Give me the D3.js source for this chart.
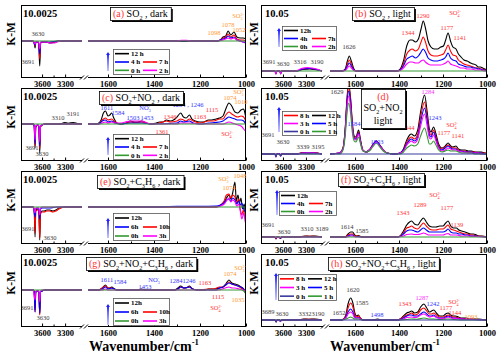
<!DOCTYPE html>
<html><head><meta charset="utf-8">
<script src="https://cdn.jsdelivr.net/npm/d3@7/dist/d3.min.js"></script>
<style>html,body{margin:0;padding:0;background:#fff}svg{display:block}</style>
</head><body>
<svg id="chart" width="500" height="356" xmlns="http://www.w3.org/2000/svg"></svg>
<script>
// ================= DATA (wavenumber cm-1, relative K-M) =================
const xTickValues = [3600, 3300, 1600, 1400, 1200, 1000];
const xMinorValues = [3450, 1500, 1300, 1100];
const leftColSegments = [[3874, 3080], [1687, 1000]];
const rightColSegments = [[3887, 3090], [1714, 1000]];
const yDomainDark = [-36, 36];
const yDomainLight = [-6, 66];

// (a) SO2 dark
const a_12h = [[3874,0],[3720,0],[3705,-1],[3691,-7],[3680,-1],[3645,-2],[3630,-25],[3618,-2],[3590,-1],[3540,-1],[3500,-2],[3450,-1.5],[3400,-0.5],[3300,0],[3080,0],
 [1687,0],[1300,0],[1270,-0.5],[1240,0],[1125,0],[1112,1],[1100,4],[1088,5],[1078,10],[1066,6],[1052,9],[1040,4],[1025,3],[1012,3],[1000,2]];
const a_7h = [[3874,0],[3720,0],[3705,-1],[3691,-5],[3680,-1],[3645,-1.5],[3630,-18],[3618,-1.5],[3590,-1],[3500,-1.5],[3450,-1],[3400,0],[3080,0],
 [1687,0],[1125,0],[1112,1],[1100,3],[1088,4],[1078,7],[1066,4],[1052,6],[1040,2],[1025,1],[1012,1],[1000,0]];
const a_4h = [[3874,0],[3720,0],[3691,-4],[3680,-1],[3645,-1],[3630,-13],[3618,-1],[3500,-1],[3400,0],[3080,0],
 [1687,0],[1125,0],[1100,2],[1088,3],[1078,5],[1066,3],[1052,4],[1040,1],[1025,0],[1012,-1],[1000,-2]];
const a_2h = [[3874,0],[3720,0],[3691,-3],[3680,-1],[3645,-1],[3630,-8],[3618,-1],[3540,-1],[3500,-2],[3450,-2],[3400,-1],[3350,0],[3080,0],
 [1687,0],[1300,0],[1280,0.7],[1260,0.7],[1240,0],[1125,0],[1100,1],[1088,2],[1078,3],[1066,2],[1052,3],[1040,1],[1025,0],[1012,-1],[1000,-1]];
const a_0h = [[3874,0],[3080,0],[1687,0],[1000,0]];

// (b) SO2 light
const b_12h = [[3887,0],[3705,0],[3691,-3],[3680,0],[3642,0],[3630,-3],[3618,0],[3420,0],[3340,1.5],[3250,2],[3190,1.5],[3090,0],
 [1714,0],[1660,0],[1645,2],[1635,10],[1626,15],[1617,10],[1605,2],[1595,0],[1410,0],[1395,2],[1380,10],[1365,25],[1350,31],[1340,31],[1325,29],[1312,32],[1300,42],[1290,50],[1280,43],[1268,30],[1255,24],[1240,22],[1225,22],[1210,24],[1198,25],[1188,31],[1177,38],[1166,30],[1155,24],[1141,22],[1130,17],[1118,14],[1105,11],[1090,10],[1075,8],[1062,7],[1050,6],[1040,4],[1030,4],[1020,3],[1010,2],[1000,1]];
const b_7h = [[3887,0],[3705,0],[3691,-2],[3680,0],[3642,0],[3630,-2],[3618,0],[3420,0],[3340,2],[3250,2.5],[3190,2],[3090,0],
 [1714,0],[1660,0],[1645,1],[1635,7],[1626,11],[1617,7],[1605,1],[1595,0],[1410,0],[1395,1],[1380,7],[1365,17],[1350,21],[1340,22],[1325,20],[1312,22],[1300,29],[1290,34],[1280,29],[1268,20],[1255,16],[1240,15],[1225,15],[1210,16],[1198,17],[1188,21],[1177,26],[1166,20],[1155,16],[1141,15],[1130,11],[1118,9],[1105,7],[1090,6],[1075,5],[1062,4],[1050,3],[1040,3],[1030,2],[1020,2],[1010,1],[1000,0]];
const b_4h = [[3887,0],[3705,0],[3691,-2],[3680,0],[3642,0],[3630,-2],[3618,0],[3420,0],[3340,2],[3250,2.5],[3190,2],[3090,0],
 [1714,0],[1660,0],[1645,1],[1635,5],[1626,8],[1617,5],[1605,1],[1595,0],[1410,0],[1395,1],[1380,5],[1365,12],[1350,14],[1340,15],[1325,13],[1312,15],[1300,19],[1290,22],[1280,19],[1268,13],[1255,11],[1240,10],[1225,10],[1210,11],[1198,12],[1188,14],[1177,18],[1166,13],[1155,11],[1141,10],[1130,7],[1118,6],[1105,5],[1090,4],[1075,4],[1062,3],[1050,3],[1040,2],[1030,2],[1020,1],[1010,1],[1000,0]];
const b_2h = [[3887,0],[3705,0],[3691,-3],[3680,0],[3642,0],[3630,-3],[3618,0],[3440,0],[3360,2.5],[3280,3.5],[3220,3],[3160,2],[3090,0],
 [1714,0],[1660,0],[1645,0.5],[1635,3],[1626,5],[1617,3],[1605,0.5],[1595,0],[1410,0],[1395,0.5],[1380,3],[1365,7],[1350,9],[1340,9],[1325,8],[1312,8],[1300,10],[1290,11],[1280,9],[1268,7],[1255,6],[1240,6],[1225,6],[1210,6],[1198,7],[1188,8],[1177,10],[1166,7],[1155,6],[1141,5],[1130,4],[1118,3],[1105,3],[1090,2],[1075,2],[1062,1.5],[1050,1],[1040,1],[1030,1],[1020,0.5],[1010,0],[1000,0]];
const b_0h = [[3887,0],[3090,0],[1714,0],[1000,0]];

// (c) SO2+NO2 dark
const c_12h = [[3874,0],[3715,0],[3702,-2],[3691,-24],[3682,-3],[3655,-1],[3642,-3],[3630,-29],[3620,-3],[3600,-1],[3560,0],[3400,0],[3340,0.5],[3310,1.5],[3260,0.8],[3191,1.5],[3140,0.5],[3080,0],
 [1687,0],[1650,0],[1630,4],[1620,11],[1611,13],[1600,8],[1592,9],[1584,11],[1575,6],[1562,1],[1545,0],[1520,1],[1503,3],[1485,2],[1470,2],[1453,3],[1435,1],[1410,0],[1390,1],[1375,2],[1361,2],[1346,4],[1330,3],[1315,4],[1300,7],[1284,11],[1272,7],[1260,6],[1246,9],[1235,5],[1220,3],[1200,2],[1185,2],[1163,4],[1150,4],[1130,5],[1115,6],[1100,8],[1088,15],[1074,21],[1062,18],[1048,12],[1035,11],[1022,14],[1010,15],[1004,10],[1000,6]];
const c_7h = [[3874,0],[3715,0],[3702,-2],[3691,-22],[3682,-3],[3655,-1],[3642,-3],[3630,-25],[3620,-3],[3600,-1],[3560,0],[3080,0],
 [1687,0],[1640,0],[1625,4],[1611,6],[1600,4],[1584,5],[1570,2],[1545,0],[1520,1],[1503,2],[1485,1.5],[1453,2],[1435,1],[1410,0],[1375,1],[1361,2],[1346,3],[1330,2],[1300,3],[1284,5],[1272,4],[1260,3],[1246,5],[1230,3],[1200,1],[1163,3],[1140,3],[1115,5],[1100,5],[1088,9],[1074,12],[1062,10],[1048,8],[1035,7],[1022,8],[1010,7],[1000,2]];
const c_4h = [[3874,0],[3715,0],[3702,-2],[3691,-20],[3682,-2],[3655,-1],[3642,-2],[3630,-22],[3620,-2],[3600,-1],[3560,0],[3080,0],
 [1687,0],[1640,0],[1625,3],[1611,4],[1600,2],[1584,3],[1570,1],[1545,0],[1503,1],[1453,1],[1410,0],[1300,1],[1284,3],[1272,2],[1246,3],[1230,1],[1200,0],[1163,1],[1115,2],[1100,3],[1088,5],[1074,7],[1062,6],[1048,5],[1035,4],[1022,4],[1010,3],[1000,-1]];
const c_2h = [[3874,0],[3715,0],[3702,-1],[3691,-16],[3682,-2],[3655,-1],[3642,-2],[3630,-18],[3620,-2],[3600,-1],[3560,0],[3080,0],
 [1687,0],[1640,0],[1625,1],[1611,2],[1600,1],[1584,2],[1570,1],[1545,1],[1525,2],[1503,3],[1485,3],[1470,3],[1453,3],[1430,1],[1410,0],[1300,0],[1284,1],[1246,1],[1200,0],[1100,0],[1074,2],[1048,0],[1035,-1],[1022,-2],[1010,-5],[1000,-8]];
const c_0h = [[3874,0],[3080,0],[1687,0],[1000,0]];

// (d) SO2+NO2 light
const d_12h = [[3887,0],[3705,0],[3691,-2],[3680,0],[3642,0],[3630,-2],[3618,0],[3420,0],[3339,1.5],[3270,1],[3195,1.5],[3090,0],
 [1714,0],[1670,1],[1655,6],[1645,25],[1637,55],[1629,70],[1620,55],[1612,30],[1604,18],[1596,17],[1584,24],[1575,14],[1565,4],[1550,2],[1535,4],[1520,9],[1503,13],[1488,9],[1472,4],[1455,1],[1420,0],[1395,1],[1380,5],[1365,14],[1352,19],[1344,20],[1330,18],[1315,24],[1302,42],[1284,59],[1272,42],[1262,25],[1255,22],[1243,27],[1232,20],[1220,10],[1205,6],[1190,8],[1177,11],[1165,8],[1155,7],[1141,8],[1130,5],[1115,4],[1100,4],[1085,3],[1070,3],[1055,2],[1040,2],[1025,2],[1010,1],[1000,1]];
const d_8h = [[3887,0],[3705,0],[3691,-2],[3680,0],[3642,0],[3630,-1.5],[3618,0],[3420,0],[3339,1.2],[3270,0.8],[3195,1.2],[3090,0],
 [1714,0],[1670,1],[1655,6],[1645,24],[1637,53],[1629,67],[1620,53],[1612,29],[1604,17],[1596,16],[1584,22],[1575,13],[1565,4],[1550,2],[1535,4],[1520,9],[1503,13],[1488,9],[1472,4],[1455,1],[1420,0],[1395,1],[1380,4],[1365,12],[1352,16],[1344,17],[1330,15],[1315,20],[1302,37],[1284,52],[1272,37],[1262,22],[1255,19],[1243,24],[1232,17],[1220,8],[1205,5],[1190,7],[1177,9],[1165,7],[1155,6],[1141,6],[1130,4],[1115,3],[1100,3],[1085,2],[1070,2],[1055,2],[1040,1],[1025,1],[1010,1],[1000,0]];
const d_5h = [[3887,0],[3705,0],[3691,-2],[3680,0],[3642,0],[3630,-1.5],[3618,0],[3420,0],[3339,1],[3195,1],[3090,0],
 [1714,0],[1670,1],[1655,5],[1645,23],[1637,50],[1629,63],[1620,50],[1612,27],[1604,16],[1596,15],[1584,21],[1575,12],[1565,4],[1550,2],[1535,4],[1520,9],[1503,13],[1488,9],[1472,4],[1455,1],[1420,0],[1395,1],[1380,4],[1365,10],[1352,14],[1344,15],[1330,13],[1315,17],[1302,32],[1284,46],[1272,33],[1262,19],[1255,17],[1243,22],[1232,15],[1220,7],[1205,4],[1190,6],[1177,8],[1165,6],[1155,5],[1141,5],[1130,3],[1115,3],[1100,2],[1085,2],[1070,2],[1055,1],[1040,1],[1025,1],[1010,0],[1000,0]];
const d_3h = [[3887,0],[3705,0],[3691,-3],[3680,0],[3642,0],[3630,-2],[3618,0],[3420,0],[3339,1],[3195,1],[3090,0],
 [1714,0],[1670,1],[1655,5],[1645,21],[1637,46],[1629,58],[1620,46],[1612,25],[1604,15],[1596,14],[1584,20],[1575,11],[1565,4],[1550,2],[1535,4],[1520,8],[1503,12],[1488,8],[1472,4],[1455,1],[1420,0],[1395,1],[1380,3],[1365,9],[1352,12],[1344,13],[1330,11],[1315,15],[1302,28],[1284,40],[1272,28],[1262,16],[1255,15],[1243,19],[1232,13],[1220,6],[1205,3],[1190,4],[1177,6],[1165,5],[1155,4],[1141,4],[1130,3],[1115,2],[1100,2],[1085,1],[1070,1],[1055,1],[1040,1],[1025,0],[1000,0]];
const d_1h = [[3887,0],[3705,0],[3691,-1],[3680,0],[3630,-1],[3618,0],[3090,0],
 [1714,0],[1670,0],[1655,4],[1645,18],[1637,40],[1629,51],[1620,40],[1612,21],[1604,13],[1596,12],[1584,17],[1575,10],[1565,3],[1550,2],[1535,3],[1520,7],[1503,11],[1488,7],[1472,3],[1455,1],[1420,0],[1395,0],[1380,2],[1365,6],[1352,8],[1344,9],[1330,8],[1315,10],[1302,18],[1284,26],[1272,18],[1262,10],[1255,10],[1243,13],[1232,9],[1220,4],[1205,2],[1190,3],[1177,4],[1165,3],[1155,3],[1141,3],[1130,2],[1115,1],[1100,1],[1085,1],[1070,1],[1055,0],[1000,0]];
const d_0h = [[3887,0],[3705,0],[3691,-3],[3680,0],[3642,0],[3630,-2],[3618,0],[3090,0],[1714,0],[1000,0]];

// (e) SO2+C3H6 dark
const e_12h = [[3874,0],[3715,0],[3702,-3],[3691,-30],[3682,-4],[3655,-2],[3642,-5],[3630,-33],[3620,-6],[3600,-4],[3570,-4],[3540,-3],[3500,-3],[3460,-4],[3420,-3],[3380,-1],[3300,0],[3080,0],
 [1687,0],[1130,0],[1110,2],[1095,5],[1085,9],[1074,12],[1066,8],[1058,14],[1048,25],[1042,6],[1035,12],[1028,4],[1022,9],[1015,-2],[1008,3],[1003,-6],[1000,-10]];
const e_10h = [[3874,0],[3715,0],[3702,-3],[3691,-26],[3682,-4],[3655,-3],[3642,-5],[3630,-31],[3620,-7],[3600,-5],[3570,-5],[3540,-4],[3500,-4],[3460,-5],[3420,-4],[3380,-2],[3300,0],[3080,0],
 [1687,0],[1130,0],[1110,2],[1095,6],[1085,12],[1074,13],[1066,9],[1058,12],[1048,10],[1040,4],[1032,8],[1025,-2],[1018,-8],[1012,-3],[1005,-10],[1000,-12]];
const e_6h = [[3874,0],[3715,0],[3691,-10],[3682,-2],[3655,-1],[3642,-2],[3630,-12],[3620,-2],[3600,-1],[3500,-1],[3400,0],[3080,0],
 [1687,0],[1400,0],[1300,0.8],[1200,0.8],[1130,1],[1110,2],[1095,4],[1085,7],[1074,8],[1066,6],[1058,9],[1048,7],[1040,3],[1032,6],[1025,2],[1018,4],[1010,-2],[1000,-6]];
const e_3h = [[3874,0],[3715,0],[3691,-6],[3682,-1],[3655,-1],[3642,-1],[3630,-8],[3620,-1],[3600,0],[3080,0],
 [1687,0],[1130,0],[1110,1],[1095,3],[1085,6],[1074,9],[1066,5],[1058,7],[1048,5],[1040,1],[1032,3],[1025,-4],[1018,-12],[1010,-6],[1004,-14],[1000,-18]];
const e_0h = [[3874,0],[3080,0],[1687,0],[1000,0]];

// (f) SO2+C3H6 light
const f_12h = [[3887,0],[3705,0],[3691,-2],[3680,0],[3642,0],[3630,-1.5],[3618,0],[3400,0],[3310,1],[3250,0.8],[3189,1],[3090,0],
 [1714,0],[1645,0],[1632,3],[1620,5],[1611,5],[1602,2],[1592,1],[1585,1.5],[1575,0.5],[1560,0],[1410,0],[1395,1],[1380,6],[1365,12],[1352,15],[1343,16],[1330,13],[1315,12],[1302,16],[1289,19],[1276,15],[1262,11],[1248,10],[1232,10],[1215,11],[1200,11],[1188,14],[1177,16],[1165,11],[1152,9],[1139,9],[1128,7],[1115,6],[1100,5],[1088,4],[1074,3],[1062,3],[1048,2],[1035,1],[1022,1],[1010,0.5],[1000,0]];
const f_7h = [[3887,0],[3705,0],[3691,-1.5],[3680,0],[3630,-1],[3618,0],[3400,0],[3310,0.8],[3189,0.8],[3090,0],
 [1714,0],[1645,0],[1632,2],[1620,3],[1611,3],[1602,1],[1585,1],[1570,0],[1410,0],[1395,1],[1380,4],[1365,9],[1352,10],[1343,11],[1330,9],[1315,8],[1302,11],[1289,14],[1276,11],[1262,8],[1248,7],[1232,7],[1215,8],[1200,8],[1188,10],[1177,12],[1165,8],[1152,7],[1139,6],[1128,5],[1115,4],[1100,3],[1088,3],[1074,2],[1062,2],[1048,1],[1035,1],[1022,0.5],[1000,0]];
const f_4h = [[3887,0],[3705,0],[3691,-1],[3680,0],[3630,-1],[3618,0],[3090,0],
 [1714,0],[1645,0],[1632,1],[1620,2],[1611,2],[1602,0.5],[1585,0.5],[1570,0],[1410,0],[1395,0.5],[1380,3],[1365,6],[1352,7],[1343,7],[1330,6],[1315,5],[1302,7],[1289,9],[1276,7],[1262,5],[1248,5],[1232,5],[1215,5],[1200,5],[1188,6],[1177,8],[1165,5],[1152,4],[1139,4],[1128,3],[1115,3],[1100,2],[1088,2],[1074,1],[1062,1],[1048,1],[1035,0.5],[1000,0]];
const f_2h = [[3887,0],[3705,0],[3691,-1],[3680,0],[3630,-0.5],[3618,0],[3090,0],
 [1714,0],[1640,0],[1620,1],[1611,1],[1595,0],[1410,0],[1380,1],[1365,2.5],[1343,3],[1330,2.5],[1315,2.5],[1302,3],[1289,4],[1276,3],[1262,2],[1232,2],[1200,2],[1188,3],[1177,3.5],[1165,2],[1139,2],[1115,1],[1088,1],[1048,0.5],[1000,0]];
const f_0h = [[3887,0],[3090,0],[1714,0],[1000,0]];

// (g) SO2+NO2+C3H6 dark
const g_12h = [[3874,0],[3715,0],[3702,-2],[3691,-20],[3682,-2],[3655,-1],[3642,-2],[3630,-24],[3620,-2],[3600,-1],[3560,0],[3080,0],
 [1687,0],[1640,0],[1625,2],[1611,5],[1600,2],[1592,2],[1584,3],[1572,1],[1560,0],[1470,0],[1453,1],[1435,0],[1310,0],[1296,2],[1284,4],[1270,2],[1260,2],[1246,4],[1232,1],[1210,0],[1180,0],[1163,1],[1140,1],[1115,2],[1100,3],[1088,6],[1074,10],[1062,7],[1048,6],[1035,5],[1022,3],[1010,1],[1000,-4]];
const g_10h = [[3874,0],[3715,0],[3702,-2],[3691,-22],[3682,-2],[3655,-1],[3642,-2],[3630,-25],[3620,-2],[3600,-1],[3560,0],[3080,0],
 [1687,0],[1640,0],[1625,2],[1611,4],[1600,2],[1584,2],[1572,1],[1560,0],[1310,0],[1296,1],[1284,3],[1270,2],[1246,3],[1232,1],[1210,0],[1163,1],[1140,1],[1115,3],[1100,3],[1088,5],[1074,8],[1062,6],[1048,5],[1035,4],[1022,2],[1010,0],[1000,-3]];
const g_6h = [[3874,0],[3715,0],[3702,-2],[3691,-22],[3682,-2],[3655,-1],[3642,-2],[3630,-23],[3620,-2],[3600,-1],[3560,0],[3080,0],
 [1687,0],[1640,0],[1625,1],[1611,3],[1600,1],[1584,2],[1572,1],[1560,0],[1310,0],[1296,1],[1284,3],[1270,2],[1246,3],[1232,1],[1210,0],[1130,0],[1115,2],[1100,3],[1088,5],[1074,7],[1062,6],[1048,5],[1035,4],[1022,3],[1010,1],[1000,-3]];
const g_3h = [[3874,0],[3715,0],[3691,-10],[3682,-1],[3642,-1],[3630,-12],[3620,-1],[3600,0],[3080,0],
 [1687,0],[1625,0],[1611,1],[1600,0],[1120,0],[1090,2],[1074,3],[1060,2],[1048,2],[1030,1],[1000,-1]];
const g_0h = [[3874,0],[3080,0],[1687,0],[1020,0],[1010,-1],[1000,-4]];

// (h) SO2+NO2+C3H6 light
const h_12h = [[3887,0],[3705,0],[3689,-2],[3678,0],[3642,0],[3630,-1],[3618,0],[3400,0],[3332,1],[3260,0.8],[3190,1],[3090,0],
 [1714,0],[1665,0],[1652,1],[1642,5],[1632,16],[1620,22],[1610,17],[1601,7],[1593,4],[1585,5],[1576,2],[1565,0],[1520,0],[1498,1],[1478,0],[1410,0],[1395,1],[1380,4],[1365,7],[1352,8],[1343,9],[1330,7],[1315,8],[1302,13],[1287,16],[1274,12],[1262,8],[1252,9],[1242,10],[1230,7],[1215,4],[1200,4],[1188,6],[1177,7],[1165,5],[1155,4],[1144,4],[1130,3],[1115,2],[1100,2],[1093,2],[1080,1],[1060,1],[1040,1],[1020,0.5],[1000,0]];
const h_8h = [[3887,0],[3705,0],[3689,-1.5],[3678,0],[3642,0],[3630,-1],[3618,0],[3400,0],[3332,0.8],[3190,0.8],[3090,0],
 [1714,0],[1665,0],[1652,1],[1642,4],[1632,12],[1620,17],[1610,13],[1601,5],[1593,3],[1585,4],[1576,2],[1565,0],[1410,0],[1395,1],[1380,3],[1365,5],[1352,6],[1343,7],[1330,5],[1315,6],[1302,10],[1287,12],[1274,9],[1262,6],[1252,6],[1242,7],[1230,5],[1215,3],[1200,3],[1188,4],[1177,5],[1165,4],[1155,3],[1144,3],[1130,2],[1115,1.5],[1100,1.5],[1080,1],[1040,0.5],[1000,0]];
const h_5h = [[3887,0],[3705,0],[3689,-1.5],[3678,0],[3630,-1],[3618,0],[3090,0],
 [1714,0],[1665,0],[1652,0.5],[1642,3],[1632,8],[1620,11],[1610,8],[1601,3],[1593,2],[1585,2.5],[1576,1],[1565,0],[1410,0],[1395,0.5],[1380,2],[1365,4],[1352,5],[1343,5],[1330,4],[1315,4],[1302,6],[1287,8],[1274,6],[1262,4],[1252,4],[1242,5],[1230,3],[1215,2],[1200,2],[1188,3],[1177,4],[1165,3],[1155,2],[1144,2],[1130,1.5],[1115,1],[1100,1],[1060,0.5],[1000,0]];
const h_3h = [[3887,0],[3705,0],[3689,-1],[3678,0],[3630,-1],[3618,0],[3090,0],
 [1714,0],[1665,0],[1642,2],[1632,6],[1620,8],[1610,6],[1601,2],[1585,2],[1576,1],[1565,0],[1410,0],[1380,1],[1365,2.5],[1343,3],[1330,2.5],[1315,3],[1302,5],[1287,6],[1274,4.5],[1262,3],[1242,4],[1230,2.5],[1215,1.5],[1200,1.5],[1188,2],[1177,3],[1165,2],[1144,1.5],[1115,1],[1060,0.5],[1000,0]];
const h_1h = [[3887,0],[3090,0],
 [1714,0],[1665,0],[1642,1],[1632,2],[1620,3],[1610,2],[1601,1],[1585,1],[1565,0],[1410,0],[1365,0.5],[1343,1],[1320,0.8],[1287,2],[1274,1.5],[1262,1],[1242,1],[1215,0.5],[1177,1],[1150,0.5],[1100,0],[1000,0]];
const h_0h = [[3887,0],[3705,0],[3689,-2],[3678,0],[3642,0],[3630,-1],[3618,0],[3090,0],[1714,0],[1000,0]];

// series labels
const timesA = ["12 h","7 h","4 h","2 h","0 h"];
const timesB = ["12h","7h","4h","2h","0h"];
const timesD = ["12 h","8 h","5 h","3 h","1 h","0 h"];
const timesE = ["12h","10h","6h","3h","0h"];

// peak annotations: text, x, y, colour key
const notesA = [["3630",38,34,"k"],["3691",28,62,"k"],["SO_{3}^{2-}",238,16,"o"],["1078",228,25,"o"],["1052",239,30,"o"],["1098",214,33,"o"]];
const notesB = [["3691",269,62,"k"],["3630",283,64,"k"],["3316",300,62,"k"],["3190",317,62,"k"],["1626",349,47,"k"],["1344",408,33,"r"],["1290",423,16,"r"],["SO_{4}^{2-}",455,13,"r"],["1177",447,28,"r"],["1141",460,38,"r"]];
const notesC = [["3310",58,118,"k"],["3191",73,114,"k"],["3691",32,148,"k"],["3630",42,154,"k"],["1611",107,108,"b"],["1584",118,113,"b"],["NO_{3}^{-}",145,108,"b"],["1503",133,118,"b"],["1453",147,118,"b"],["1284 , 1246",188,105,"b"],["1346",170,117,"r"],["1361",162,132,"r"],["1163",200,117,"r"],["1115",212,110,"r"],["1074",230,98,"o"],["SO_{3}^{2-}",239,92,"o"],["1010",241,102,"o"],["SO_{4}^{2-}",227,134,"r"]];
const notesD = [["1629",337,92,"k"],["1584",354,124,"b"],["1503",377,142,"b"],["1344",408,128,"r"],["1284",428,92,"m"],["1243",435,118,"b"],["SO_{4}^{2-}",452,125,"r"],["1177",444,133,"r"],["1141",458,136,"r"],["3691",268,135,"k"],["3630",283,142,"k"],["3339",303,147,"k"],["3195",318,147,"k"]];
const notesE = [["3691",28,229,"k"],["3630",50,238,"k"],["SO_{3}^{2-}",224,179,"o"],["1048",240,176,"o"],["1074",229,188,"o"]];
const notesF = [["3691",268,225,"k"],["3630",284,232,"k"],["3310",307,229,"k"],["3189",322,229,"k"],["1614",347,227,"k"],["1585",362,231,"k"],["SO_{4}^{2-}",435,195,"r"],["1343",403,213,"r"],["1289",420,205,"r"],["1177",447,208,"r"],["1139",457,225,"r"]];
const notesG = [["3691",27,308,"k"],["3630",43,318,"k"],["1611",107,280,"b"],["1584",120,282,"b"],["1453",145,287,"b"],["NO_{3}^{-}",154,280,"b"],["1284",176,281,"b"],["1246",189,281,"b"],["1163",205,283,"r"],["1115",218,297,"r"],["SO_{4}^{2-}",216,308,"r"],["1074",230,274,"o"],["SO_{3}^{2-}",240,268,"o"],["1035",238,300,"o"]];
const notesH = [["3689",268,312,"k"],["3630",282,314,"k"],["3332",305,314,"k"],["3190",318,314,"k"],["1652",339,313,"k"],["1620",353,290,"k"],["1585",362,303,"k"],["1498",377,315,"b"],["1343",405,304,"r"],["1287",422,298,"m"],["1242",433,304,"b"],["SO_{4}^{2-}",454,302,"r"],["1177",446,308,"r"],["1144",455,313,"r"],["1093",471,317,"o"]];

// ================= LAYOUT / STYLE =================
const FONT = "'Liberation Serif','Times New Roman',Times,serif";
const seriesColors = ["#000000","#FF0000","#0000FF","#FF00FF","#339933","#3A3A9E"];
const noteColors = {k:"#3a3a3a", o:"#FF9933", r:"#FF3333", b:"#3333FF", m:"#FF33FF"};
const cols = [
  {x0:21, x1:246, seg:leftColSegments, rL:[21,82], rR:[88,246], brk:85, sx:23},
  {x0:261, x1:487, seg:rightColSegments, rL:[261,322], rR:[330,487], brk:326, sx:265}
];
const rowTop = [5, 88, 171, 254], rowH = 72;

const panels = [
 {key:"a",col:0,row:0,letter:"(a)",name:"SO_{2} , dark",scale:"10.0025",times:timesA,data:[a_12h,a_7h,a_4h,a_2h,a_0h],notes:notesA,title:[110,7],legend:[113,49,56,25],arrow:[108,52,71]},
 {key:"b",col:1,row:0,letter:"(b)",name:"SO_{2} , light",scale:"10.05",times:timesB,data:[b_12h,b_7h,b_4h,b_2h,b_0h],notes:notesB,title:[352,7],legend:[282,26,54,24],arrow:[279,28,47]},
 {key:"c",col:0,row:1,letter:"(c)",name:"SO_{2}+NO_{2} , dark",scale:"10.0025",times:timesA,data:[c_12h,c_7h,c_4h,c_2h,c_0h],notes:notesC,title:[99,91],legend:[113,134,56,25],arrow:[108,137,155]},
 {key:"d",col:1,row:1,letter:"(d)",name:null,scale:"10.05",times:timesD,data:[d_12h,d_8h,d_5h,d_3h,d_1h,d_0h],notes:notesD,title:[361,89,44,39],legend:[282,111,54,24],arrow:[279,107,132]},
 {key:"e",col:0,row:2,letter:"(e)",name:"SO_{2}+C_{3}H_{6} , dark",scale:"10.0025",times:timesE,data:[e_12h,e_10h,e_6h,e_3h,e_0h],notes:notesE,title:[97,175],legend:[113,213,56,27],arrow:[108,218,238]},
 {key:"f",col:1,row:2,letter:"(f)",name:"SO_{2}+C_{3}H_{6} , light",scale:"10.05",times:timesB,data:[f_12h,f_7h,f_4h,f_2h,f_0h],notes:notesF,title:[338,173],legend:[279,191,57,24],arrow:[277,190,215]},
 {key:"g",col:0,row:3,letter:"(g)",name:"SO_{2}+NO_{2}+C_{3}H_{6} , dark",scale:"10.0025",times:timesE,data:[g_12h,g_10h,g_6h,g_3h,g_0h],notes:notesG,title:[86,257],legend:[113,298,56,27],arrow:[108,304,325]},
 {key:"h",col:1,row:3,letter:"(h)",name:"SO_{2}+NO_{2}+C_{3}H_{6} , light",scale:"10.05",times:timesD,data:[h_12h,h_8h,h_5h,h_3h,h_1h,h_0h],notes:notesH,title:[328,257],legend:[278,274,58,26],arrow:[276,273,300]}
];
const slots5 = [[0,null],[2,1],[4,3]];
const slots6 = [[1,0],[3,2],[5,4]];

const svg = d3.select("#chart");
svg.append("rect").attr("width",500).attr("height",356).attr("fill","#fff");
const defs = svg.append("defs");
const grad = defs.append("linearGradient").attr("id","arrowGrad").attr("x1",0).attr("y1",0).attr("x2",0).attr("y2",1);
grad.append("stop").attr("offset","0%").attr("stop-color","#1f1fff");
grad.append("stop").attr("offset","35%").attr("stop-color","#6f6fff");
grad.append("stop").attr("offset","100%").attr("stop-color","#c4c4ff");

function rich(textSel, str, size){
  const parts = str.split(/(_\{[^}]*\}|\^\{[^}]*\})/).filter(s=>s.length);
  let cur = 0, prevSub = null;
  parts.forEach(p=>{
    let t=p, fs=size, sh=0, kind="n";
    if(p[0]==="_"){t=p.slice(2,-1);fs=size*0.62;sh=size*0.28;kind="sub";}
    else if(p[0]==="^"){t=p.slice(2,-1);fs=size*0.62;sh=-size*0.42;kind="sup";}
    const ts = textSel.append("tspan").attr("font-size",fs).attr("dy",sh-cur).text(t);
    if(kind==="sup" && prevSub){ ts.attr("dx",-prevSub.node().getComputedTextLength()); }
    prevSub = kind==="sub" ? ts : null;
    cur = sh;
  });
}

panels.forEach(p=>{
  const c = cols[p.col], top = rowTop[p.row], bot = top + rowH;
  const y = d3.scaleLinear().domain(p.col ? yDomainLight : yDomainDark).range([bot, top]);
  const xL = d3.scaleLinear().domain(c.seg[0]).range(c.rL);
  const xR = d3.scaleLinear().domain(c.seg[1]).range(c.rR);
  const g = svg.append("g");
  const clipId = "clip_" + p.key;
  defs.append("clipPath").attr("id",clipId).append("rect").attr("x",c.x0).attr("y",top).attr("width",c.x1-c.x0).attr("height",rowH);
  const lg = g.append("g").attr("clip-path",`url(#${clipId})`);
  p.data.forEach((s,i)=>{
    const L = s.filter(d=>d[0]>2500), R = s.filter(d=>d[0]<2500);
    [[L,xL],[R,xR]].forEach(([pts,x])=>{
      if(pts.length<2) return;
      lg.append("path")
        .attr("d", d3.line().x(d=>x(d[0])).y(d=>y(d[1])).curve(d3.curveMonotoneX)(pts))
        .attr("fill","none").attr("stroke",seriesColors[i]).attr("stroke-width",1.1)
        .attr("stroke-linejoin","round");
    });
  });

  // frame
  const fr = g.append("g").attr("stroke","#000").attr("stroke-width",1).attr("fill","none");
  fr.append("line").attr("x1",c.x0).attr("y1",top+0.5).attr("x2",c.x1).attr("y2",top+0.5);
  fr.append("line").attr("x1",c.x0+0.5).attr("y1",top).attr("x2",c.x0+0.5).attr("y2",bot);
  fr.append("line").attr("x1",c.x1-0.5).attr("y1",top).attr("x2",c.x1-0.5).attr("y2",bot);
  fr.append("line").attr("x1",c.x0).attr("y1",bot+0.5).attr("x2",c.brk-3).attr("y2",bot+0.5);
  fr.append("line").attr("x1",c.brk+3).attr("y1",bot+0.5).attr("x2",c.x1).attr("y2",bot+0.5);
  fr.append("line").attr("x1",c.brk-5).attr("y1",bot+2.5).attr("x2",c.brk-1).attr("y2",bot-1.5);
  fr.append("line").attr("x1",c.brk-1).attr("y1",bot+2.5).attr("x2",c.brk+3).attr("y2",bot-1.5);

  // axes
  [[xL, v=>v>2500],[xR, v=>v<2500]].forEach(([x,f])=>{
    const ax = d3.axisBottom(x).tickValues(xTickValues.filter(f)).tickSizeInner(-3).tickSizeOuter(0).tickPadding(3).tickFormat(d3.format("d"));
    const ag = g.append("g").attr("transform",`translate(0,${bot+0.5})`).call(ax);
    ag.select(".domain").remove();
    ag.selectAll("text").attr("font-family",FONT).attr("font-weight","bold").attr("font-size",8.5).attr("fill","#000");
    const am = d3.axisBottom(x).tickValues(xMinorValues.filter(f)).tickSizeInner(-2).tickSizeOuter(0).tickFormat("");
    const mg = g.append("g").attr("transform",`translate(0,${bot+0.5})`).call(am);
    mg.select(".domain").remove();
  });

  // scale label
  g.append("text").attr("x",c.sx).attr("y",top+12).attr("font-family",FONT).attr("font-weight","bold").attr("font-size",10.5).text(p.scale);

  // K-M
  const kmx = p.col ? 254 : 11;
  g.append("text").attr("transform",`translate(${kmx},${top+29}) rotate(-90)`).attr("text-anchor","middle").attr("dy","0.35em")
    .attr("font-family",FONT).attr("font-weight","bold").attr("font-size",11.5).text("K-M");

  // notes
  p.notes.forEach(n=>{
    const t = g.append("text").attr("x",n[1]).attr("y",n[2]+2.3).attr("text-anchor","middle")
      .attr("font-family",FONT).attr("font-size",6.5).attr("fill",noteColors[n[3]]);
    rich(t, n[0], 6.5);
  });

  // legend
  const [lx,ly,lw,lh] = p.legend;
  g.append("rect").attr("x",lx+0.5).attr("y",ly+0.5).attr("width",lw).attr("height",lh).attr("fill","#fff").attr("stroke","#555").attr("stroke-width",0.8);
  const slots = p.data.length===6 ? slots6 : slots5;
  slots.forEach((row,ri)=>{
    const ry = ly + lh/6 + ri*lh/3 + 0.5;
    row.forEach((si,ci)=>{
      if(si===null) return;
      const ox = lx + (ci ? 30 : 2);
      g.append("line").attr("x1",ox).attr("x2",ox+14).attr("y1",ry).attr("y2",ry).attr("stroke",seriesColors[si]).attr("stroke-width",1.6);
      g.append("text").attr("x",ox+16).attr("y",ry+2.4).attr("font-family",FONT).attr("font-weight","bold").attr("font-size",7).text(p.times[si]);
    });
  });
  // arrow
  const [axp, ay1, ay2] = p.arrow;
  g.append("rect").attr("x",axp-1).attr("y",ay1+2).attr("width",2).attr("height",ay2-ay1-2).attr("fill","url(#arrowGrad)");
  g.append("path").attr("d",`M${axp-2},${ay1+3}L${axp},${ay1}L${axp+2},${ay1+3}Z`).attr("fill","#1f1fff");

  // title box
  if(p.name){
    const [bx,by] = p.title;
    const tg = g.append("g");
    const sh = tg.append("rect"), bg = tg.append("rect");
    const t = tg.append("text").attr("x",bx+3).attr("y",by+10).attr("font-family",FONT).attr("font-size",10);
    t.append("tspan").attr("fill","#FF3333").text(p.letter+" ");
    const t2 = t.append("tspan").attr("fill","#000");
    rich(t2, p.name, 10);
    const bw = t.node().getComputedTextLength() + 6, bh = 13;
    sh.attr("x",bx+2).attr("y",by+2).attr("width",bw).attr("height",bh).attr("fill","#000");
    bg.attr("x",bx+0.5).attr("y",by+0.5).attr("width",bw).attr("height",bh).attr("fill","#fff").attr("stroke","#000").attr("stroke-width",0.8);
  } else {
    const [bx,by,bw,bh] = p.title;
    g.append("rect").attr("x",bx+2).attr("y",by+2).attr("width",bw).attr("height",bh).attr("fill","#000");
    g.append("rect").attr("x",bx+0.5).attr("y",by+0.5).attr("width",bw).attr("height",bh).attr("fill","#fff").attr("stroke","#000").attr("stroke-width",0.8);
    const cx = bx + bw/2;
    g.append("text").attr("x",cx).attr("y",by+11).attr("text-anchor","middle").attr("font-family",FONT).attr("font-size",10).attr("fill","#FF3333").text("(d)");
    const l2 = g.append("text").attr("x",cx).attr("y",by+22).attr("text-anchor","middle").attr("font-family",FONT).attr("font-size",10);
    rich(l2, "SO_{2}+NO_{2}", 10);
    g.append("text").attr("x",cx).attr("y",by+35).attr("text-anchor","middle").attr("font-family",FONT).attr("font-size",10).text("light");
  }
});

// x titles
[[144],[385]].forEach(([cx])=>{
  const t = svg.append("text").attr("x",cx).attr("y",351).attr("text-anchor","middle").attr("font-family",FONT).attr("font-weight","bold").attr("font-size",14);
  rich(t, "Wavenumber/cm^{-1}", 14);
});
</script>
</body></html>
